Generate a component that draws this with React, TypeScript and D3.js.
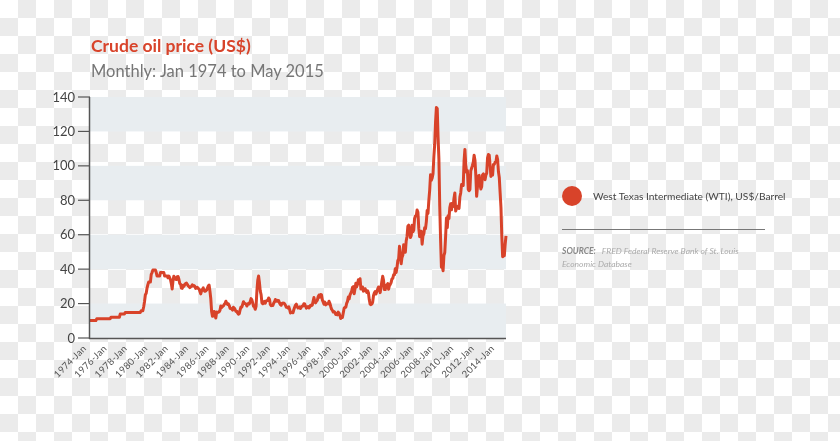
import React from "react";
import * as d3 from "d3";

const startYear = 1974;
const wti1974_1979: number[] = [
  10.11, 10.11, 10.11, 10.11, 10.11, 10.11, 10.11, 10.11, 11.16, 11.16, 11.16, 11.16,
  11.16, 11.16, 11.16, 11.16, 11.16, 11.16, 11.16, 11.16, 11.16, 11.16, 11.16, 11.16,
  11.16, 12.03, 12.03, 12.03, 12.03, 12.03, 12.03, 12.03, 12.03, 12.03, 12.03, 12.03,
  13.9, 13.9, 13.9, 13.9, 13.9, 13.9, 14.85, 14.85, 14.85, 14.85, 14.85, 14.85,
  14.85, 14.85, 14.85, 14.85, 14.85, 14.85, 14.85, 14.85, 14.85, 14.85, 14.85, 14.85,
  14.85, 15.85, 15.85, 15.85, 18.12, 21.1, 25.1, 25.99, 28.99, 31.0, 32.5, 32.5,
];
const wti1980_1989: number[] = [
  32.5, 37.0, 38.0, 39.5, 39.5, 39.5, 39.5, 38.0, 36.0, 36.0, 36.0, 36.0,
  38.0, 38.0, 38.0, 38.0, 38.0, 36.0, 36.0, 36.0, 36.0, 35.0, 36.0, 35.0,
  33.85, 31.56, 28.48, 33.45, 35.93, 35.07, 34.16, 33.95, 35.63, 35.68, 34.15, 31.72,
  31.21, 28.97, 28.82, 30.61, 30.0, 31.0, 31.66, 31.9, 31.11, 30.41, 29.84, 29.24,
  29.7, 30.05, 30.85, 30.26, 30.48, 29.97, 28.77, 29.25, 29.46, 28.78, 28.46, 27.15,
  25.64, 27.31, 28.24, 29.13, 27.59, 27.12, 27.33, 27.84, 29.04, 30.2, 30.75, 27.22,
  22.93, 15.45, 12.61, 12.84, 15.38, 13.43, 11.58, 15.1, 14.87, 14.9, 15.22, 16.11,
  18.65, 17.75, 18.3, 18.68, 19.44, 20.07, 21.34, 20.31, 19.53, 19.86, 18.85, 17.28,
  17.13, 16.8, 16.2, 17.86, 17.42, 16.53, 15.5, 15.52, 14.54, 13.77, 14.14, 16.38,
  18.02, 17.94, 19.48, 21.07, 20.12, 20.05, 19.78, 18.58, 19.59, 20.1, 19.86, 21.1,
];
const wti1990_1999: number[] = [
  22.86, 22.11, 20.39, 18.43, 18.2, 16.7, 18.45, 27.31, 33.51, 36.04, 32.33, 27.28,
  25.23, 20.48, 19.9, 20.83, 21.23, 20.19, 21.4, 21.69, 21.89, 23.23, 22.46, 19.5,
  18.79, 19.01, 18.92, 20.23, 20.98, 22.38, 21.78, 21.34, 21.88, 21.69, 20.34, 19.41,
  19.03, 20.09, 20.32, 20.25, 19.95, 19.09, 17.89, 18.01, 17.5, 18.15, 16.61, 14.52,
  15.03, 14.78, 14.68, 16.42, 17.89, 19.06, 19.65, 18.38, 17.45, 17.72, 18.07, 17.16,
  18.04, 18.57, 18.54, 19.9, 19.74, 18.45, 17.33, 18.02, 18.23, 17.43, 17.99, 19.03,
  18.85, 19.09, 21.33, 23.5, 21.17, 20.42, 21.3, 21.9, 23.97, 24.88, 23.71, 25.23,
  25.13, 22.18, 20.97, 19.7, 20.82, 19.26, 19.66, 19.95, 19.8, 21.33, 20.19, 18.33,
  16.72, 16.06, 15.12, 15.35, 14.91, 13.72, 14.17, 13.47, 15.03, 14.46, 13.0, 11.35,
  12.51, 12.01, 14.68, 17.31, 17.72, 17.92, 20.1, 21.28, 23.8, 22.69, 25.0, 26.1,
];
const wti2000_2009: number[] = [
  27.26, 29.37, 29.84, 25.72, 28.79, 31.82, 29.7, 31.26, 33.88, 33.11, 34.42, 28.44,
  29.59, 29.61, 27.24, 27.49, 28.63, 27.6, 26.42, 27.37, 26.2, 22.17, 19.64, 19.39,
  19.72, 20.72, 24.53, 26.18, 27.04, 25.52, 26.97, 28.39, 29.66, 28.84, 26.35, 29.46,
  32.95, 35.83, 33.51, 28.17, 28.11, 30.66, 30.76, 31.57, 28.31, 30.34, 31.11, 32.13,
  34.31, 34.69, 36.74, 36.75, 40.28, 38.03, 40.78, 44.9, 45.94, 53.28, 48.47, 43.15,
  46.84, 48.15, 54.19, 52.98, 49.83, 56.35, 59.0, 64.99, 65.59, 62.26, 58.32, 59.41,
  65.49, 61.63, 62.69, 69.44, 70.84, 70.95, 74.41, 73.04, 63.8, 58.89, 59.08, 61.96,
  54.51, 59.28, 60.44, 63.98, 63.46, 67.49, 74.12, 72.36, 79.92, 85.8, 94.77, 91.69,
  92.97, 95.39, 105.45, 112.58, 125.4, 133.88, 133.37, 116.67, 104.11, 76.61, 57.31, 41.12,
  41.71, 39.09, 47.94, 49.65, 59.03, 69.64, 64.15, 71.05, 69.41, 75.72, 77.99, 74.47,
];
const wti2010_2015: number[] = [
  78.33, 76.39, 81.2, 84.29, 73.74, 75.34, 76.32, 76.6, 75.24, 81.89, 84.25, 89.15,
  89.17, 88.58, 102.86, 109.53, 100.9, 96.26, 97.3, 86.33, 85.52, 86.32, 97.16, 98.56,
  100.27, 102.2, 106.16, 103.32, 94.66, 82.3, 87.9, 94.13, 94.51, 89.49, 86.53, 87.86,
  94.76, 95.31, 92.94, 92.02, 94.51, 95.77, 104.67, 106.57, 106.29, 100.54, 93.86, 97.63,
  94.62, 100.82, 100.8, 102.07, 102.18, 105.79, 103.59, 96.54, 93.21, 84.4, 75.79, 59.29,
  47.22, 50.58, 47.82, 54.45, 59.27,
];
const wti: number[] = [...wti1974_1979, ...wti1980_1989, ...wti1990_1999, ...wti2000_2009, ...wti2010_2015];

const yTicks: number[] = [0, 20, 40, 60, 80, 100, 120, 140];
const xTickYears: number[] = [1974, 1976, 1978, 1980, 1982, 1984, 1986, 1988, 1990, 1992, 1994, 1996, 1998, 2000, 2002, 2004, 2006, 2008, 2010, 2012, 2014];

const title = "Crude oil price (US$)";
const subtitle = "Monthly: Jan 1974 to May 2015";
const seriesName = "West Texas Intermediate (WTI), US$/Barrel";

const W = 840, H = 441;
const left = 90, right = 506, top = 97, bottom = 338;
const RED = "#d8432a";
const FONT = "Lato, 'Open Sans', sans-serif";

export default function App() {
  const x = d3.scaleLinear().domain([0, wti.length - 1]).range([left, right]);
  const y = d3.scaleLinear().domain([0, 140]).range([bottom, top]);
  const xl = d3.scaleLinear().domain([startYear, 2014]).range([left - 3, 495]);
  const line = d3.line<number>().x((_, i) => x(i)).y((d) => y(d)).curve(d3.curveLinear);
  const bands = [0, 40, 80, 120];

  return (
    <div style={{ position: "fixed", left: 0, top: 0 }}>
      <svg width={W} height={H} style={{ display: "block" }}>
        <defs>
          <pattern id="chk" width={36} height={36} patternUnits="userSpaceOnUse">
            <rect width={36} height={36} fill="#ffffff" />
            <rect x={18} y={0} width={18} height={18} fill="#ebebeb" />
            <rect x={0} y={18} width={18} height={18} fill="#ebebeb" />
          </pattern>
        </defs>
        <rect width={W} height={H} fill="url(#chk)" />
        {bands.map((b) => (
          <rect key={b} x={left} y={y(b + 20)} width={right - left} height={y(b) - y(b + 20)} fill="#e8edf0" />
        ))}
        <text x={91} y={52} fill={RED} fontFamily={FONT} fontWeight={700} fontSize={17.5}>{title}</text>
        <text x={91} y={77} fill="#767676" fontFamily={FONT} fontSize={16.5}>{subtitle}</text>
        {yTicks.map((t) => (
          <g key={t}>
            <line x1={78} x2={left} y1={y(t)} y2={y(t)} stroke="#555" strokeWidth={1.2} />
            <text x={75} y={y(t)} dy="0.35em" textAnchor="end" fill="#444" fontFamily={FONT} fontSize={13}>{t}</text>
          </g>
        ))}
        <path d={line(wti) || ""} fill="none" stroke={RED} strokeWidth={3} strokeLinejoin="round" />
        <line x1={left - 0.5} x2={left - 0.5} y1={top} y2={bottom + 1} stroke="#555" strokeWidth={1.5} />
        <line x1={left - 1} x2={right} y1={bottom + 0.5} y2={bottom + 0.5} stroke="#555" strokeWidth={1.5} />
        {xTickYears.map((yr) => (
          <text key={yr} transform={`translate(${xl(yr)},${bottom + 11}) rotate(-45)`} textAnchor="end" fill="#555" fontFamily={FONT} fontSize={9.5} letterSpacing={0.3}>{`${yr}-Jan`}</text>
        ))}
        <circle cx={572} cy={196} r={10} fill={RED} />
        <text x={593} y={200} fill="#444" fontFamily={FONT} fontSize={10.2}>{seriesName}</text>
        <line x1={562} x2={765} y1={229.5} y2={229.5} stroke="#777" strokeWidth={1} />
        <text x={562} y={254} fontFamily={FONT} fontSize={8.5} fontStyle="italic" fill="#aaa">
          <tspan fontWeight={700} fill="#888">SOURCE:</tspan>
          <tspan dx={6}>FRED Federal Reserve Bank of St. Louis</tspan>
        </text>
        <text x={562} y={267} fontFamily={FONT} fontSize={8.5} fontStyle="italic" fill="#aaa">Economic Database</text>
      </svg>
    </div>
  );
}
